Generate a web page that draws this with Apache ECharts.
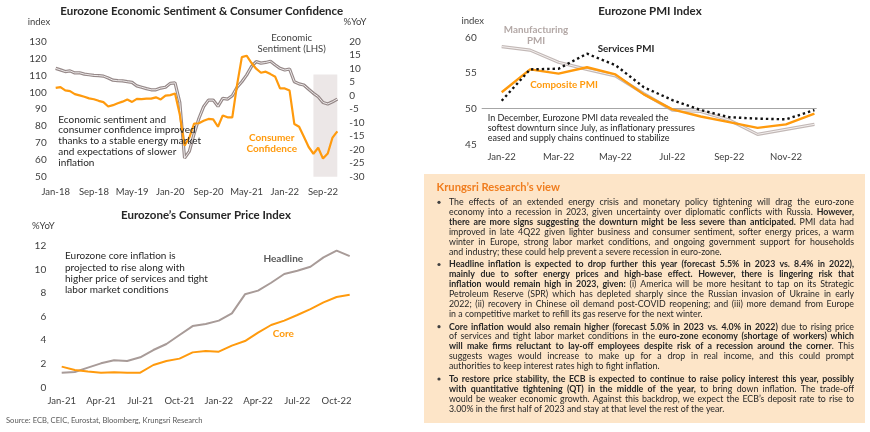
<!DOCTYPE html>
<html><head><meta charset="utf-8">
<script src="https://cdn.jsdelivr.net/npm/echarts@6/dist/echarts.min.js"></script>
<style>html,body{margin:0;padding:0;background:#fff}#c{width:870px;height:432px}</style>
</head><body><div id="c"></div>
<script>
const FONT = 'Lato, "Open Sans", sans-serif';

// ---------- Chart 1: Economic Sentiment & Consumer Confidence ----------
const esMonths = [
 'Jan-18','Feb-18','Mar-18','Apr-18','May-18','Jun-18','Jul-18','Aug-18','Sep-18','Oct-18','Nov-18','Dec-18',
 'Jan-19','Feb-19','Mar-19','Apr-19','May-19','Jun-19','Jul-19','Aug-19','Sep-19','Oct-19','Nov-19','Dec-19',
 'Jan-20','Feb-20','Mar-20','Apr-20','May-20','Jun-20','Jul-20','Aug-20','Sep-20','Oct-20','Nov-20','Dec-20',
 'Jan-21','Feb-21','Mar-21','Apr-21','May-21','Jun-21','Jul-21','Aug-21','Sep-21','Oct-21','Nov-21','Dec-21',
 'Jan-22','Feb-22','Mar-22','Apr-22','May-22','Jun-22','Jul-22','Aug-22','Sep-22','Oct-22','Nov-22','Dec-22'];
const econSentiment = [
 114.2,113.3,112.3,112.7,111.5,111.6,110.8,110.4,110.0,109.9,109.6,108.5,
 107.2,106.9,106.8,106.3,105.9,103.8,103.0,102.2,101.5,101.5,102.5,103.0,
 105.3,105.6,94.0,61.0,65.0,75.5,84.5,91.5,95.4,95.4,91.7,96.4,
 96.0,98.0,103.0,106.3,110.2,115.2,118.2,117.3,117.7,118.4,116.2,114.2,
 113.2,113.8,106.3,105.0,104.3,101.8,99.4,97.4,94.0,93.1,94.4,96.0];
const consumerConf = [
 2.9,3.2,2.0,1.7,0.6,0.1,-0.4,-1.0,-1.3,-1.9,-2.4,-4.0,
 -3.5,-2.8,-2.2,-1.4,-2.3,-1.2,-1.3,-1.1,-1.1,-0.6,-1.4,0.0,
 0.2,0.8,-7.0,-18.5,-15.5,-10.3,-10.2,-9.3,-8.6,-8.8,-11.5,-7.3,
 -8.0,-8.0,4.0,14.3,14.8,12.2,10.0,8.5,8.9,8.0,7.0,2.7,
 2.7,1.9,-10.5,-11.5,-15.2,-19.0,-21.5,-19.3,-23.3,-21.4,-15.5,-13.2];
const shadeFrom = 'Jul-22', shadeTo = 'Dec-22';

// ---------- Chart 2: PMI ----------
const pmiMonths = ['Jan-22','Feb-22','Mar-22','Apr-22','May-22','Jun-22','Jul-22','Aug-22','Sep-22','Oct-22','Nov-22','Dec-22'];
const pmiTickIdx = [0,2,4,6,8,10];
const manufPMI = [58.7,58.2,56.5,55.5,54.6,52.1,49.8,49.6,48.4,46.4,47.1,47.8];
const servicesPMI = [51.1,55.5,55.6,57.7,56.1,53.0,51.2,49.8,48.8,48.6,48.5,49.8];
const compositePMI = [52.3,55.5,54.9,55.8,54.8,52.0,49.9,48.9,48.1,47.3,47.8,49.3];

// ---------- Chart 3: CPI ----------
const cpiMonths = ['Jan-21','Feb-21','Mar-21','Apr-21','May-21','Jun-21','Jul-21','Aug-21','Sep-21','Oct-21','Nov-21','Dec-21',
 'Jan-22','Feb-22','Mar-22','Apr-22','May-22','Jun-22','Jul-22','Aug-22','Sep-22','Oct-22','Nov-22'];
const headlineCPI = [1.24,1.3,1.67,2.03,2.3,2.23,2.54,3.16,3.67,4.43,5.19,5.36,5.65,6.27,7.88,8.19,8.86,9.6,9.88,10.22,11.01,11.58,11.12];
const coreCPI = [1.75,1.47,1.33,1.24,1.27,1.24,1.24,1.89,2.23,2.43,2.96,3.08,3.02,3.53,3.92,4.63,5.28,5.65,6.13,6.63,7.2,7.65,7.85];

// ---------- Text box ----------
const viewTitle = 'Krungsri Research\u2019s view';
const viewParagraphs = [
 [
  [['The effects of an extended energy crisis and monetary policy tightening will drag the euro-zone',0]],
  [['economy into a recession in 2023, given uncertainty over diplomatic conflicts with Russia. ',0],['However,',1]],
  [['there are more signs suggesting the downturn might be less severe than anticipated.',1],[' PMI data had',0]],
  [['improved in late 4Q22 given lighter business and consumer sentiment, softer energy prices, a warm',0]],
  [['winter in Europe, strong labor market conditions, and ongoing government support for households',0]],
  [['and industry; these could help prevent a severe recession in euro-zone.',0]]
 ],
 [
  [['Headline inflation is expected to drop further this year (forecast 5.5% in 2023 vs. 8.4% in 2022),',1]],
  [['mainly due to softer energy prices and high-base effect. However, there is lingering risk that',1]],
  [['inflation would remain high in 2023, given:',1],[' (i) America will be more hesitant to tap on its Strategic',0]],
  [['Petroleum Reserve (SPR) which has depleted sharply since the Russian invasion of Ukraine in early',0]],
  [['2022; (ii) recovery in Chinese oil demand post-COVID reopening; and (iii) more demand from Europe',0]],
  [['in a competitive market to refill its gas reserve for the next winter.',0]]
 ],
 [
  [['Core inflation would also remain higher (forecast 5.0% in 2023 vs. 4.0% in 2022)',1],[' due to rising price',0]],
  [['of services and tight labor market conditions in the ',0],['euro-zone economy (shortage of workers) which',1]],
  [['will make firms reluctant to lay-off employees despite risk of a recession around the corner',1],['. This',0]],
  [['suggests wages would increase to make up for a drop in real income, and this could prompt',0]],
  [['authorities to keep interest rates high to fight inflation.',0]]
 ],
 [
  [['To restore price stability, the ECB is expected to continue to raise policy interest this year, possibly',1]],
  [['with quantitative tightening (QT) in the middle of the year,',1],[' to bring down inflation. The trade-off',0]],
  [['would be weaker economic growth. Against this backdrop, we expect the ECB\u2019s deposit rate to rise to',0]],
  [['3.00% in the first half of 2023 and stay at that level the rest of the year.',0]]
 ]
];

const ORANGE = '#ff9a0d';
const TXT = '#262626';

function txt(x, y, text, o) {
  o = o || {};
  return {type:'text', x:x, y:y, silent:true, z:50,
    style:{text:text, fill:o.fill||TXT, fontSize:o.size||10, fontWeight:o.bold?'bold':'normal',
      fontFamily:FONT, textAlign:o.align||'left', align:o.align||'left',
      textVerticalAlign:'middle', verticalAlign:'middle'}};
}

const graphics = [];
// box
graphics.push({type:'rect', shape:{x:424, y:174, width:441, height:249}, style:{fill:'#fde5c8'}, z:1, silent:true});
graphics.push(txt(436.5, 187.3, viewTitle, {fill:'#f07d1e', size:11.2, bold:true}));

// justified paragraphs
const BOX_FS = 8.8, TX0 = 449, TX1 = 854, LH = 9.9, PGAP = 12.7;
const ctx = document.createElement('canvas').getContext('2d');
function mw(t, b){ ctx.font = (b?'bold ':'') + BOX_FS + 'px ' + FONT; return ctx.measureText(t).width; }
let ly = 202.3;
viewParagraphs.forEach((para, pi) => {
  graphics.push({type:'circle', shape:{cx:439, cy:ly, r:1.6}, style:{fill:'#404040'}, z:50, silent:true});
  para.forEach((line, li) => {
    const words = []; let joinPrev = false;
    line.forEach(([t,b]) => {
      const toks = t.split(' ');
      toks.forEach((tk,k) => {
        if (tk === '') return;
        if (k === 0 && joinPrev && words.length) words[words.length-1].push({t:tk,b:b});
        else words.push([{t:tk,b:b}]);
      });
      joinPrev = !t.endsWith(' ');
    });
    const ws = words.map(w => w.reduce((s,p)=>s+mw(p.t,p.b),0));
    const sum = ws.reduce((a,b)=>a+b,0);
    const sp = mw(' ',0);
    const last = li === para.length-1;
    let gap = last ? sp : (TX1-TX0-sum)/Math.max(1,words.length-1);
    let scale = 1;
    if (gap < sp*0.6) { gap = sp*0.6; scale = (TX1-TX0)/(sum+gap*(words.length-1)); }
    const children = [];
    let x = 0;
    words.forEach((w,wi) => {
      let px = x;
      w.forEach(p => {
        children.push({type:'text', x:px, y:0, silent:true, z:60,
          style:{text:p.t, fill:TXT, fontSize:BOX_FS, fontWeight:p.b?'bold':'normal', fontFamily:FONT,
            textVerticalAlign:'middle', verticalAlign:'middle'}});
        px += mw(p.t,p.b);
      });
      x += ws[wi] + gap;
    });
    graphics.push({type:'group', x:TX0, y:ly, scaleX:scale, z:60, silent:true, children:children});
    ly += LH;
  });
  ly += PGAP - LH;
});

// chart 1 texts
graphics.push(txt(201.7, 11.7, 'Eurozone Economic Sentiment & Consumer Confidence', {bold:true, size:11.5, align:'center'}));
graphics.push(txt(39, 22.3, 'index', {size:9.5, align:'center', fill:'#404040'}));
graphics.push(txt(355, 22.3, '%YoY', {size:9.5, align:'center', fill:'#404040'}));
graphics.push(txt(291.7, 37.7, 'Economic', {size:9.6, align:'center', fill:'#404040'}));
graphics.push(txt(291.7, 48.5, 'Sentiment (LHS)', {size:9.6, align:'center', fill:'#404040'}));
graphics.push(txt(271.7, 137.7, 'Consumer', {size:10, align:'center', fill:ORANGE, bold:true}));
graphics.push(txt(271.7, 148.5, 'Confidence', {size:10, align:'center', fill:ORANGE, bold:true}));
['Economic sentiment and','consumer confidence improved','thanks to a stable energy market','and expectations of slower','inflation']
 .forEach((s,i)=>graphics.push(txt(58.3, 119.3 + i*10.75, s, {size:10})));

// PMI texts
graphics.push(txt(650, 11.7, 'Eurozone PMI Index', {bold:true, size:11.5, align:'center'}));
graphics.push(txt(472.7, 20.7, 'index', {size:9.5, align:'center', fill:'#404040'}));
graphics.push(txt(536, 30, 'Manufacturing', {size:9.8, align:'center', fill:'#b3a8a6', bold:true}));
graphics.push(txt(536, 40.7, 'PMI', {size:9.8, align:'center', fill:'#b3a8a6', bold:true}));
graphics.push(txt(626, 49, 'Services PMI', {size:9.8, align:'center', fill:'#262626', bold:true}));
graphics.push(txt(564, 85, 'Composite PMI', {size:9.8, align:'center', fill:ORANGE, bold:true}));
['In December, Eurozone PMI data revealed the','softest downturn since July, as inflationary pressures','eased and supply chains continued to stabilize']
 .forEach((s,i)=>graphics.push(txt(487.7, 118.3 + i*10, s, {size:9})));

// CPI texts
graphics.push(txt(206, 215, 'Eurozone\u2019s Consumer Price Index', {bold:true, size:11.5, align:'center'}));
graphics.push(txt(43.3, 226, '%YoY', {size:9.5, align:'center', fill:'#404040'}));
['Eurozone core inflation is','projected to rise along with','higher price of services and tight','labor market conditions']
 .forEach((s,i)=>graphics.push(txt(65, 256 + i*11.4, s, {size:10})));
graphics.push(txt(283.3, 259, 'Headline', {size:10, align:'center', fill:'#595959', bold:true}));
graphics.push(txt(283.3, 334, 'Core', {size:10, align:'center', fill:ORANGE, bold:true}));
graphics.push(txt(6, 421, 'Source: ECB, CEIC, Eurostat, Bloomberg, Krungsri Research', {size:7.6, fill:'#595959'}));

const axLbl = {fontFamily:FONT, color:'#404040', fontSize:10};
const noLine = {show:false}, noTick = {show:false}, noSplit = {show:false};

const option = {
  animation:false,
  textStyle:{fontFamily:FONT},
  grid:[
    {left:55.7, top:41.7, width:281.6, height:135},
    {left:481.7, top:37.3, width:335, height:107},
    {left:61.7, top:245.7, width:288, height:141.6}
  ],
  xAxis:[
    {type:'category', gridIndex:0, data:esMonths, boundaryGap:false, axisLine:noLine, axisTick:noTick, splitLine:noSplit,
     axisLabel:Object.assign({}, axLbl, {interval:7, margin:10, fontSize:9.5})},
    {type:'value', gridIndex:1, min:-0.703, max:11.08, axisLine:noLine, axisTick:noTick, splitLine:noSplit,
     axisLabel:Object.assign({}, axLbl, {customValues:pmiTickIdx, formatter:v=>pmiMonths[Math.round(v)], margin:8, fontSize:9.5})},
    {type:'category', gridIndex:2, data:cpiMonths, boundaryGap:false, axisLine:noLine, axisTick:noTick, splitLine:noSplit,
     axisLabel:Object.assign({}, axLbl, {interval:2, margin:9, fontSize:9.5})}
  ],
  yAxis:[
    {type:'value', gridIndex:0, min:50, max:130, interval:10, axisLine:noLine, axisTick:noTick, splitLine:noSplit,
     axisLabel:Object.assign({}, axLbl, {margin:9})},
    {type:'value', gridIndex:0, position:'right', min:-30, max:20, interval:5, axisLine:noLine, axisTick:noTick, splitLine:noSplit,
     axisLabel:Object.assign({}, axLbl, {margin:12})},
    {type:'value', gridIndex:1, min:45, max:60, interval:5, axisLine:noLine, axisTick:noTick, splitLine:noSplit,
     axisLabel:Object.assign({}, axLbl, {margin:5})},
    {type:'value', gridIndex:2, min:0, max:12, interval:2, axisLine:noLine, axisTick:noTick, splitLine:noSplit,
     axisLabel:Object.assign({}, axLbl, {margin:15.5})}
  ],
  series:[
    {name:'Shade', type:'line', xAxisIndex:0, yAxisIndex:0, data:[], z:1, silent:true,
     markArea:{silent:true, itemStyle:{color:'#ece7e7'}, data:[[{xAxis:shadeFrom, yAxis:50},{xAxis:shadeTo, yAxis:110.5}]]}},
    {name:'Economic Sentiment', type:'line', xAxisIndex:0, yAxisIndex:0, data:econSentiment, showSymbol:false, z:3,
     lineStyle:{color:'#958888', width:3.2}},
    {name:'Economic Sentiment inner', type:'line', xAxisIndex:0, yAxisIndex:0, data:econSentiment, showSymbol:false, z:4, silent:true,
     lineStyle:{color:'#eeeaea', width:1}},
    {name:'Consumer Confidence', type:'line', xAxisIndex:0, yAxisIndex:1, data:consumerConf, showSymbol:false, z:5,
     lineStyle:{color:ORANGE, width:2.2}},

    {name:'Manufacturing PMI', type:'line', xAxisIndex:1, yAxisIndex:2, data:manufPMI.map((v,i)=>[i,v]), showSymbol:false, z:3,
     lineStyle:{color:'#c2b8b6', width:3.2},
     markLine:{silent:true, symbol:'none', label:{show:false}, lineStyle:{color:'#a6a6a6', width:1, type:'solid'}, data:[{yAxis:50}]}},
    {name:'Manufacturing PMI inner', type:'line', xAxisIndex:1, yAxisIndex:2, data:manufPMI.map((v,i)=>[i,v]), showSymbol:false, z:4, silent:true,
     lineStyle:{color:'#f4f0ef', width:1}},
    {name:'Composite PMI', type:'line', xAxisIndex:1, yAxisIndex:2, data:compositePMI.map((v,i)=>[i,v]), showSymbol:false, z:5,
     lineStyle:{color:ORANGE, width:2.4}},
    {name:'Services PMI', type:'line', xAxisIndex:1, yAxisIndex:2, data:servicesPMI.map((v,i)=>[i,v]), showSymbol:false, z:6,
     lineStyle:{color:'#111111', width:2.4, type:[2.4,3]}},

    {name:'Headline', type:'line', xAxisIndex:2, yAxisIndex:3, data:headlineCPI, showSymbol:false, z:3,
     lineStyle:{color:'#a89b98', width:2}},
    {name:'Core', type:'line', xAxisIndex:2, yAxisIndex:3, data:coreCPI, showSymbol:false, z:4,
     lineStyle:{color:ORANGE, width:2}}
  ],
  graphic:{elements:graphics}
};
const chart = echarts.init(document.getElementById('c'), null, {renderer:'canvas'});
chart.setOption(option);
</script></body></html>
